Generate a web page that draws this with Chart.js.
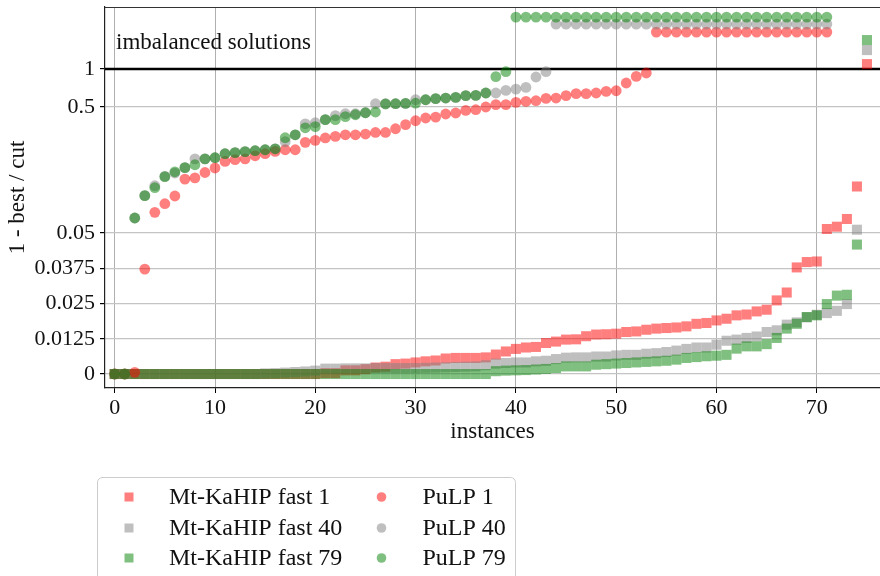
<!DOCTYPE html>
<html>
<head>
<meta charset="utf-8">
<script src="https://cdn.jsdelivr.net/npm/chart.js@4.4.1/dist/chart.umd.min.js"></script>
<style>
  html, body { margin: 0; padding: 0; background: #fff; overflow: hidden; }
  #wrap { width: 880px; height: 576px; position: relative; }
  canvas { display: block; }
</style>
</head>
<body>
<div id="wrap"><canvas id="c" width="880" height="576" style="width:880px;height:576px"></canvas></div>
<script>
// ---------------- DATA ----------------
const xTicks = [0, 10, 20, 30, 40, 50, 60, 70];
const yTicks = [0, 0.0125, 0.025, 0.0375, 0.05, 0.5, 1];
const yTickLabels = ['0', '0.0125', '0.025', '0.0375', '0.05', '0.5', '1'];
const seriesLabels = ['Mt-KaHIP fast 1', 'Mt-KaHIP fast 40', 'Mt-KaHIP fast 79', 'PuLP 1', 'PuLP 40', 'PuLP 79'];
const imbalancedText = 'imbalanced solutions';
const feasibleLimit = 1;   // values above this are imbalanced solutions

// Values of "1 - best / cut" sorted per algorithm; entries > 1 mark imbalanced solutions
const mtk1 = [0, 0, 0, 0, 0, 0, 0, 0, 0, 0, 0, 0, 0, 0, 0, 0, 0, 0, 0, 0, 0,
  0.0003, 0.0003, 0.0013, 0.0013, 0.0017, 0.0023, 0.0026, 0.0035, 0.0037, 0.0041,
  0.0045, 0.0048, 0.0055, 0.0057, 0.0057, 0.0057, 0.0059, 0.0069, 0.0080, 0.0089,
  0.0094, 0.0096, 0.0110, 0.0115, 0.0122, 0.0123, 0.0134, 0.0140, 0.0141, 0.0143,
  0.0149, 0.0151, 0.0157, 0.0161, 0.0163, 0.0165, 0.0169, 0.0178, 0.0181, 0.0190,
  0.0196, 0.0208, 0.0211, 0.0222, 0.0228, 0.0261, 0.0289, 0.0378, 0.0397, 0.0399,
  0.0538, 0.0561, 0.0646, 0.117, 1.05];
const mtk40 = [0, 0, 0, 0, 0, 0, 0, 0, 0, 0, 0, 0, 0, 0, 0,
  0.0002, 0.0003, 0.0005, 0.0007, 0.0009, 0.0012, 0.0019, 0.0019, 0.0020, 0.0020,
  0.0020, 0.0021, 0.0021, 0.0021, 0.0021, 0.0021, 0.0022, 0.0023, 0.0024, 0.0025,
  0.0026, 0.0027, 0.0031, 0.0037, 0.0039, 0.0041, 0.0041, 0.0045, 0.0047, 0.0053,
  0.0058, 0.0059, 0.0059, 0.0062, 0.0062, 0.0066, 0.0068, 0.0068, 0.0072, 0.0074,
  0.0078, 0.0083, 0.0089, 0.0094, 0.0094, 0.0104, 0.0118, 0.0122, 0.0128, 0.0133,
  0.0149, 0.0155, 0.0175, 0.0183, 0.0201, 0.0210, 0.0216, 0.0224, 0.0248, 0.0531, 1.19];
const mtk79 = [0, 0, 0, 0, 0, 0, 0, 0, 0, 0, 0, 0, 0, 0, 0, 0, 0, 0, 0, 0,
  0, 0, 0, 0, 0, 0, 0, 0, 0, 0, 0, 0, 0, 0, 0, 0, 0, 0,
  0.0010, 0.0012, 0.0013, 0.0014, 0.0016, 0.0018, 0.0021, 0.0027, 0.0027, 0.0027,
  0.0033, 0.0035, 0.0037, 0.0039, 0.0041, 0.0043, 0.0045, 0.0047, 0.0051, 0.0057,
  0.0060, 0.0063, 0.0065, 0.0068, 0.0090, 0.0098, 0.0098, 0.0106, 0.0128, 0.0161,
  0.0178, 0.0202, 0.0208, 0.0248, 0.0278, 0.0281, 0.0459, 1.29];
const pulp1 = [0, 0, 0.0006, 0.0372, 0.0729, 0.0854, 0.0983, 0.134, 0.137, 0.151,
  0.164, 0.185, 0.191, 0.194, 0.205, 0.213, 0.222, 0.229, 0.229, 0.262,
  0.272, 0.284, 0.292, 0.301, 0.301, 0.305, 0.314, 0.314, 0.336, 0.362,
  0.389, 0.409, 0.416, 0.440, 0.448, 0.470, 0.476, 0.500, 0.522, 0.522,
  0.544, 0.554, 0.561, 0.585, 0.589, 0.615, 0.638, 0.638, 0.646, 0.665,
  0.673, 0.775, 0.875, 0.931,
  1.37, 1.37, 1.37, 1.37, 1.37, 1.37, 1.37, 1.37, 1.37, 1.37,
  1.37, 1.37, 1.37, 1.37, 1.37, 1.37, 1.37, 1.37];
const pulp40 = [0, 0, 0.0658, 0.0989, 0.1187, 0.1407, 0.1496, 0.165, 0.194, 0.194,
  0.198, 0.213, 0.217, 0.221, 0.225, 0.229, 0.233, 0.265, 0.301, 0.368,
  0.375, 0.397, 0.427, 0.442, 0.442, 0.450, 0.531, 0.531, 0.531, 0.534,
  0.571, 0.571, 0.582, 0.589, 0.596, 0.615, 0.618, 0.646, 0.646, 0.677,
  0.694, 0.715, 0.865, 0.953,
  1.45, 1.45, 1.45, 1.45, 1.45, 1.45, 1.45, 1.45, 1.45, 1.45,
  1.45, 1.45, 1.45, 1.45, 1.45, 1.45, 1.45, 1.45, 1.45, 1.45,
  1.45, 1.45, 1.45, 1.45, 1.45, 1.45, 1.45, 1.45];
const pulp79 = [0, 0, 0.0658, 0.0989, 0.1144, 0.140, 0.153, 0.165, 0.174, 0.194,
  0.198, 0.213, 0.217, 0.221, 0.225, 0.229, 0.233, 0.285, 0.301, 0.342,
  0.349, 0.397, 0.397, 0.419, 0.434, 0.450, 0.456, 0.528, 0.531, 0.534,
  0.536, 0.571, 0.582, 0.589, 0.596, 0.615, 0.618, 0.646, 0.870, 0.953,
  1.52, 1.52, 1.52, 1.52, 1.52, 1.52, 1.52, 1.52, 1.52, 1.52,
  1.52, 1.52, 1.52, 1.52, 1.52, 1.52, 1.52, 1.52, 1.52, 1.52,
  1.52, 1.52, 1.52, 1.52, 1.52, 1.52, 1.52, 1.52, 1.52, 1.52,
  1.52, 1.52];

// ---------------- STYLE ----------------
const FONT = '"Liberation Serif", "Times New Roman", serif';
const TXT = '#111';
const seriesValues = [mtk1, mtk40, mtk79, pulp1, pulp40, pulp79];
const seriesColors = ['rgba(255,0,0,0.5)', 'rgba(128,128,128,0.5)', 'rgba(0,128,0,0.5)',
                      'rgba(255,0,0,0.5)', 'rgba(128,128,128,0.5)', 'rgba(0,128,0,0.5)'];
const seriesShapes = ['rect', 'rect', 'rect', 'circle', 'circle', 'circle'];

// ---------------- CUSTOM Y SCALE: linear to 0.05, log to 1, linear above ----------------
const LIN = 0.05, LINLEN = 141, DEC = 126, TOPLEN = 100;
class BrokenScale extends Chart.LinearScale {
  _tf(v) {
    if (v <= LIN) return v / LIN * LINLEN;
    if (v <= 1) return LINLEN + DEC * Math.log10(v / LIN);
    return LINLEN + DEC * Math.log10(1 / LIN) + (v - 1) * TOPLEN;
  }
  _itf(t) {
    const b = LINLEN + DEC * Math.log10(1 / LIN);
    if (t <= LINLEN) return t / LINLEN * LIN;
    if (t <= b) return LIN * Math.pow(10, (t - LINLEN) / DEC);
    return 1 + (t - b) / TOPLEN;
  }
  buildTicks() { return yTicks.map(v => ({ value: v })); }
  getPixelForValue(v) {
    if (v === null || v === undefined || isNaN(v)) return NaN;
    const t0 = this._tf(this.min), t1 = this._tf(this.max);
    return this.getPixelForDecimal((this._tf(v) - t0) / (t1 - t0));
  }
  getValueForPixel(p) {
    const t0 = this._tf(this.min), t1 = this._tf(this.max);
    return this._itf(t0 + this.getDecimalForPixel(p) * (t1 - t0));
  }
}
BrokenScale.id = 'broken';
BrokenScale.defaults = {};
Chart.register(BrokenScale);

// ---------------- PLUGINS ----------------
const framePlugin = {
  id: 'frame',
  beforeDatasetsDraw(chart) {
    const { ctx, chartArea: ca } = chart;
    const y1 = chart.scales.y.getPixelForValue(feasibleLimit);
    ctx.save();
    ctx.strokeStyle = '#000';
    ctx.lineWidth = 2.4;
    ctx.beginPath(); ctx.moveTo(ca.left, y1); ctx.lineTo(ca.right, y1); ctx.stroke();
    ctx.restore();
  },
  afterDraw(chart) {
    const { ctx, chartArea: ca } = chart;
    ctx.save();
    // top spine
    ctx.strokeStyle = '#333';
    ctx.lineWidth = 1.2;
    ctx.beginPath(); ctx.moveTo(ca.left, ca.top + 0.5); ctx.lineTo(ca.right, ca.top + 0.5); ctx.stroke();
    // annotation
    ctx.fillStyle = TXT;
    ctx.font = '23px ' + FONT;
    ctx.textBaseline = 'alphabetic';
    ctx.textAlign = 'left';
    ctx.fillText(imbalancedText, ca.left + 11, ca.top + 42);
    // legend
    const bx = ca.left - 8, by = ca.bottom + 89, bw = 418, bh = 120, r = 5;
    ctx.fillStyle = 'rgba(255,255,255,0.8)';
    ctx.strokeStyle = '#cccccc';
    ctx.lineWidth = 1;
    ctx.beginPath();
    ctx.moveTo(bx + r, by + 0.5);
    ctx.lineTo(bx + bw - r, by + 0.5);
    ctx.arcTo(bx + bw + 0.5, by + 0.5, bx + bw + 0.5, by + r, r);
    ctx.lineTo(bx + bw + 0.5, by + bh);
    ctx.lineTo(bx + 0.5, by + bh);
    ctx.lineTo(bx + 0.5, by + r);
    ctx.arcTo(bx + 0.5, by + 0.5, bx + r, by + 0.5, r);
    ctx.closePath();
    ctx.fill(); ctx.stroke();
    const rowMarkY = [20, 51, 81];
    const rowTextY = [27, 58, 88];
    const colMarkX = [32, 284.5];
    const colTextX = [72, 325.5];
    ctx.font = '24px ' + FONT;
    chart.data.datasets.forEach((ds, i) => {
      const col = Math.floor(i / 3), row = i % 3;
      const mx = bx + colMarkX[col], my = by + rowMarkY[row];
      ctx.fillStyle = ds.backgroundColor;
      if (ds.pointStyle === 'rect') {
        ctx.fillRect(mx - 4.5, my - 4.5, 9, 9);
      } else {
        ctx.beginPath(); ctx.arc(mx, my, 4.8, 0, Math.PI * 2); ctx.fill();
      }
      ctx.fillStyle = TXT;
      ctx.fillText(ds.label, bx + colTextX[col], by + rowTextY[row]);
    });
    ctx.restore();
  }
};

// ---------------- CHART ----------------
const datasets = seriesValues.map((vals, i) => ({
  label: seriesLabels[i],
  data: vals.map((v, k) => ({ x: k, y: v })),
  pointStyle: seriesShapes[i],
  pointRadius: seriesShapes[i] === 'rect' ? 7.1 : 5.4,
  backgroundColor: seriesColors[i],
  borderWidth: 0,
  pointBorderWidth: 0,
  order: 6 - i,
  clip: false
}));

new Chart(document.getElementById('c'), {
  type: 'scatter',
  data: { datasets },
  options: {
    responsive: false,
    animation: false,
    devicePixelRatio: 1,
    layout: { autoPadding: false, padding: { top: 7, right: 0, bottom: 130, left: 0 } },
    plugins: { legend: { display: false }, tooltip: { enabled: false } },
    scales: {
      x: {
        type: 'linear',
        min: -0.967,
        max: 76.3,
        afterBuildTicks: s => { s.ticks = xTicks.map(v => ({ value: v })); },
        afterFit: s => { s.height = 58; s.paddingLeft = 0; s.paddingRight = 0; },
        grid: { color: '#b0b0b0', lineWidth: 1, tickColor: '#000', tickLength: 5 },
        border: { color: '#222', width: 1.2 },
        ticks: { font: { family: FONT, size: 22 }, color: TXT, padding: 2, maxRotation: 0, autoSkip: false },
        title: { display: true, text: 'instances', font: { family: FONT, size: 23 }, color: TXT, padding: { top: 0, bottom: 0 } }
      },
      y: {
        type: 'broken',
        min: -0.00496,
        max: 1.6207,
        afterFit: s => { s.width = 105; s.paddingTop = 0; s.paddingBottom = 0; },
        grid: { color: '#c4c4c4', lineWidth: 1.2, tickColor: '#000', tickLength: 5 },
        border: { color: '#222', width: 1.2 },
        ticks: { font: { family: FONT, size: 22 }, color: TXT, padding: 5, autoSkip: false,
                 callback: (v, i) => yTickLabels[i] },
        title: { display: true, text: '1 - best / cut', font: { family: FONT, size: 23 }, color: TXT, padding: { top: 4, bottom: 4 } }
      }
    }
  },
  plugins: [framePlugin]
});
</script>
</body>
</html>
